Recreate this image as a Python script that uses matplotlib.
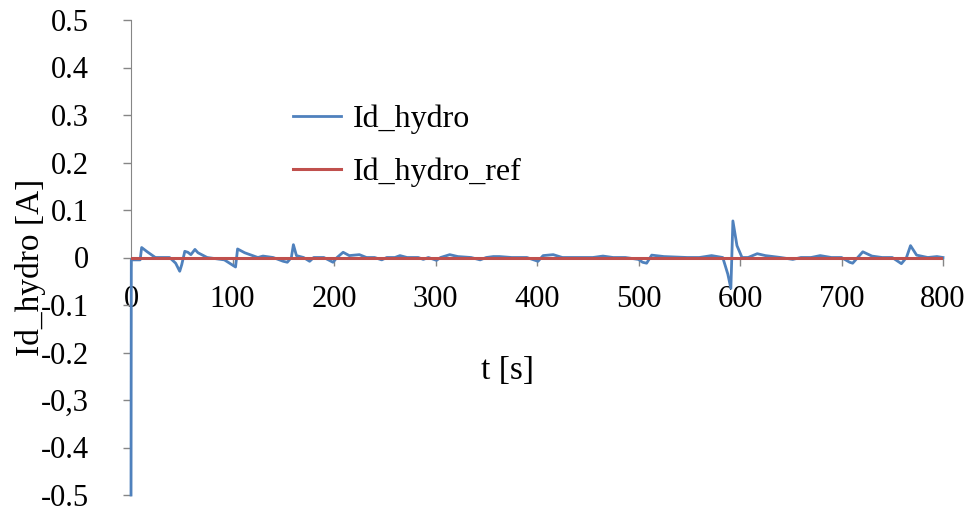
import matplotlib
matplotlib.use("Agg")
import matplotlib.pyplot as plt

plt.rcParams['font.family'] = ['Liberation Serif', 'DejaVu Serif']

# time [s]
t = [0, 0.3, 9, 10.5, 16, 24, 38, 44, 48, 50, 53, 56, 59, 63, 66, 75,
     92, 103, 105, 112, 125, 130, 140, 150, 154, 158, 160, 163, 170, 176, 180, 190,
     199, 203, 209, 215, 225, 232, 240, 247, 252, 260, 265, 272, 283, 288, 293, 301, 305,
     314, 322, 335, 344, 350, 357, 363, 375, 390, 401, 406, 416, 425, 440, 455, 465, 475,
     487, 500, 504, 508, 513, 525, 548, 560, 572, 583, 588, 591, 593, 597, 602, 608, 617,
     625, 640, 652, 660, 670, 679, 690, 700, 708, 711, 721, 730, 740, 750, 759, 764,
     768, 774, 785, 794, 800]
# Id_hydro [A]
id_hydro = [-0.5, -0.005, -0.005, 0.021, 0.012, 0.0, 0.0, -0.012, -0.029, -0.015, 0.013, 0.011, 0.006, 0.017, 0.01, 0.0,
            -0.005, -0.02, 0.018, 0.01, 0.0, 0.003, 0.0, -0.008, -0.01, 0.0, 0.027, 0.004, 0.0, -0.008, 0.0, 0.0,
            -0.01, 0.0, 0.011, 0.004, 0.006, 0.0, 0.0, -0.005, 0.0, 0.0, 0.004, 0.0, 0.0, -0.004, 0.0, -0.006, 0.0,
            0.006, 0.002, 0.0, -0.005, 0.0, 0.002, 0.002, 0.0, 0.0, -0.008, 0.004, 0.006, 0.0, 0.0, 0.0, 0.003, 0.0,
            0.0, -0.004, -0.01, -0.012, 0.005, 0.002, 0.0, 0.0, 0.004, 0.0, -0.035, -0.065, 0.077, 0.025, 0.0, 0.0, 0.008,
            0.004, 0.0, -0.004, 0.0, 0.0, 0.004, 0.0, 0.0, -0.01, -0.012, 0.012, 0.003, 0.0, 0.0, -0.013, 0.0,
            0.025, 0.005, 0.0, 0.002, 0.0]
t_ref = [0, 800]
id_hydro_ref = [0, 0]

xticks = [0, 100, 200, 300, 400, 500, 600, 700, 800]
yticks = [0.5, 0.4, 0.3, 0.2, 0.1, 0, -0.1, -0.2, -0.3, -0.4, -0.5]
ytick_labels = ['0.5', '0.4', '0.3', '0.2', '0.1', '0', '-0.1', '-0.2', '-0,3', '-0.4', '-0.5']

fig = plt.figure(figsize=(9.76, 5.15), dpi=100)
ax = fig.add_axes([131/976, 1-495/515, (943-131)/976, (495-20)/515])

ax.plot(t, id_hydro, color='#4F81BD', lw=2.0, label='Id_hydro', clip_on=False, zorder=3)
ax.plot(t_ref, id_hydro_ref, color='#C0504D', lw=2.2, label='Id_hydro_ref', zorder=4)

ax.set_xlim(0, 800)
ax.set_ylim(-0.5, 0.5)
ax.set_xticks(xticks)
ax.set_yticks(yticks)
ax.set_yticklabels(ytick_labels)

for s in ['top', 'right']:
    ax.spines[s].set_visible(False)
ax.spines['bottom'].set_position(('data', 0))
ax.spines['bottom'].set_color('#868686')
ax.spines['left'].set_color('#868686')
ax.spines['bottom'].set_zorder(1)
ax.tick_params(axis='x', direction='out', length=6, width=1, color='#868686', pad=14, labelsize=22)
ax.tick_params(axis='y', direction='out', length=6, width=1, color='#868686', pad=24, labelsize=22)

fig.text(31/976, 1-267/515, 'Id_hydro [A]', rotation=90, ha='center', va='center', fontsize=24)
fig.text(508/976, 1-371/515, 't [s]', ha='center', va='center', fontsize=24)

ax.legend(loc='upper left', bbox_to_anchor=(293/976, 1-105/515), bbox_transform=fig.transFigure,
          frameon=False, fontsize=23, handlelength=1.5, handletextpad=0.38, labelspacing=0.72,
          borderpad=0, borderaxespad=0)

fig.savefig('out.png', dpi=100)
